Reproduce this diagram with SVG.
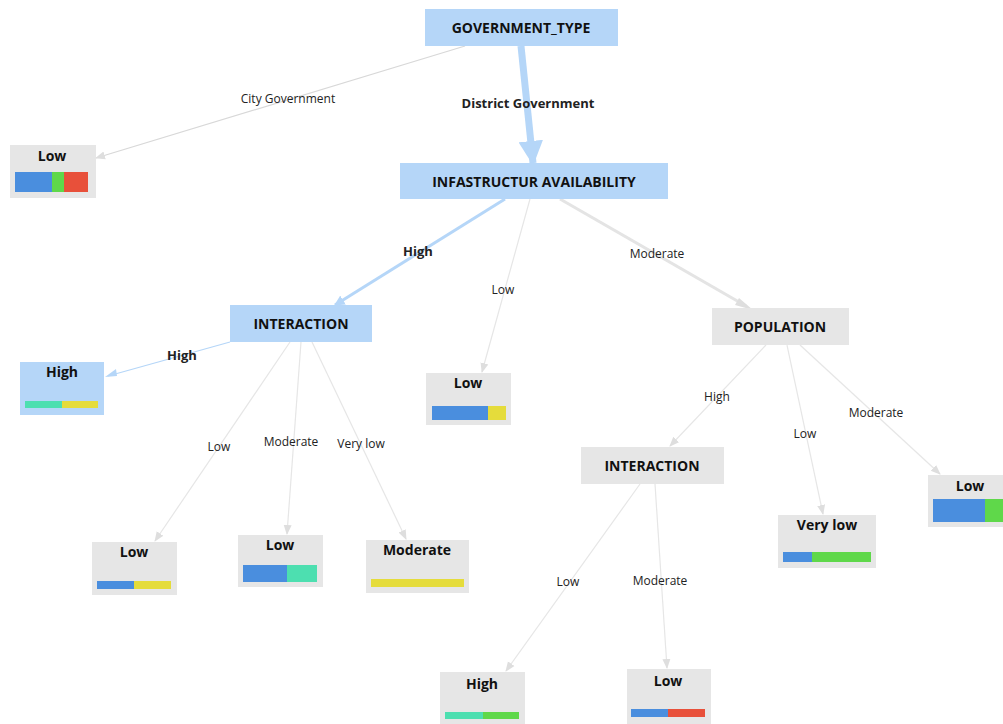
<svg xmlns="http://www.w3.org/2000/svg" width="1003" height="724" viewBox="0 0 1003 724">
<style>
.nb{fill:#b5d6f8}
.ng{fill:#e6e6e6}
.t{font-family:"Open Sans","Liberation Sans",sans-serif;font-weight:bold;font-size:14px;fill:#111;text-anchor:middle}
.el{font-family:"Open Sans","Liberation Sans",sans-serif;font-size:12px;fill:#222;text-anchor:middle}
.eb{font-family:"Open Sans","Liberation Sans",sans-serif;font-size:13px;font-weight:bold;fill:#222;text-anchor:middle}
.e{stroke:#e6e6e6;stroke-width:1.2;fill:none;marker-end:url(#ag)}
.ed{stroke:#d8d8d8;stroke-width:1.2;fill:none;marker-end:url(#ag)}
.ew{stroke:#e4e4e4;stroke-width:3;fill:none}
.eh{stroke:#b5d6f8;fill:none;marker-end:url(#ab)}
.bB{fill:#4a8ede}.bG{fill:#5fd84a}.bR{fill:#e8503a}.bT{fill:#4ddfb0}.bY{fill:#e5dc3b}
</style>
<defs>
<marker id="ag" viewBox="0 0 10 10" refX="9" refY="5" markerWidth="10" markerHeight="10" markerUnits="userSpaceOnUse" orient="auto">
<path d="M0,1 L10,5 L0,9 Z" fill="#dedede"/>
</marker>
<marker id="ab" viewBox="0 0 10 10" refX="9" refY="5" markerWidth="3.5" markerHeight="3.5" orient="auto">
<path d="M0,0 L10,5 L0,10 Z" fill="#b5d6f8"/>
</marker>
</defs>
<g id="connectors">
<line class="ed" x1="465" y1="46" x2="96" y2="158"/>
<line class="eh" stroke-width="7" x1="521" y1="46" x2="533" y2="163"/>
<line class="eh" stroke-width="3" x1="505" y1="199" x2="335" y2="305"/>
<line class="e" x1="530" y1="199" x2="482" y2="372"/>
<line class="ew" x1="560" y1="199" x2="746" y2="306"/>
<path d="M739,298 L753,310 L735,305 Z" fill="#dedede"/>
<line class="eh" stroke-width="1.2" x1="230" y1="342" x2="108" y2="376" style="marker-end:none"/>
<path d="M105,377 L116,369 L117,376 Z" fill="#b5d6f8"/>
<line class="e" x1="290" y1="342" x2="155" y2="541"/>
<line class="e" x1="301" y1="342" x2="287" y2="534"/>
<line class="e" x1="312" y1="342" x2="406" y2="539"/>
<line class="e" x1="766" y1="345" x2="670" y2="446"/>
<line class="e" x1="787" y1="345" x2="823" y2="514"/>
<line class="e" x1="800" y1="345" x2="940" y2="474"/>
<line class="e" x1="640" y1="484" x2="506" y2="671"/>
<line class="e" x1="655" y1="484" x2="667" y2="668"/>
<text class="el" x="288" y="103">City Government</text>
<text class="eb" x="528" y="108">District Government</text>
<text class="eb" x="418" y="256">High</text>
<text class="el" x="503" y="294">Low</text>
<text class="el" x="657" y="258">Moderate</text>
<text class="eb" x="182" y="360">High</text>
<text class="el" x="219" y="451">Low</text>
<text class="el" x="291" y="446">Moderate</text>
<text class="el" x="361" y="448">Very low</text>
<text class="el" x="717" y="401">High</text>
<text class="el" x="805" y="438">Low</text>
<text class="el" x="876" y="417">Moderate</text>
<text class="el" x="568" y="586">Low</text>
<text class="el" x="660" y="585">Moderate</text>
</g>
<g id="n-government-type">
<rect class="nb" x="425" y="9" width="193" height="37"/>
<text class="t" x="521" y="33">GOVERNMENT_TYPE</text>
</g>
<g id="n-low-city">
<rect class="ng" x="10" y="145" width="86" height="53"/>
<text class="t" x="52" y="161">Low</text>
<rect class="bB" x="15" y="172" width="37" height="20"/>
<rect class="bG" x="52" y="172" width="12" height="20"/>
<rect class="bR" x="64" y="172" width="24" height="20"/>
</g>
<g id="n-infra">
<rect class="nb" x="400" y="163" width="268" height="36"/>
<text class="t" x="534" y="187">INFASTRUCTUR AVAILABILITY</text>
</g>
<g id="n-interaction1">
<rect class="nb" x="230" y="305" width="142" height="37"/>
<text class="t" x="301" y="329">INTERACTION</text>
</g>
<g id="n-high1">
<rect class="nb" x="20" y="362" width="84" height="53"/>
<text class="t" x="62" y="377">High</text>
<rect class="bT" x="25" y="401" width="37" height="7"/>
<rect class="bY" x="62" y="401" width="36" height="7"/>
</g>
<g id="n-low-mid">
<rect class="ng" x="426" y="373" width="85" height="52"/>
<text class="t" x="468" y="388">Low</text>
<rect class="bB" x="432" y="406" width="56" height="14"/>
<rect class="bY" x="488" y="406" width="18" height="14"/>
</g>
<g id="n-population">
<rect class="ng" x="712" y="308" width="137" height="37"/>
<text class="t" x="780" y="332">POPULATION</text>
</g>
<g id="n-low-a">
<rect class="ng" x="92" y="542" width="85" height="53"/>
<text class="t" x="134" y="557">Low</text>
<rect class="bB" x="97" y="581" width="37" height="8"/>
<rect class="bY" x="134" y="581" width="37" height="8"/>
</g>
<g id="n-low-b">
<rect class="ng" x="238" y="535" width="85" height="52"/>
<text class="t" x="280" y="550">Low</text>
<rect class="bB" x="243" y="565" width="44" height="17"/>
<rect class="bT" x="287" y="565" width="30" height="17"/>
</g>
<g id="n-moderate">
<rect class="ng" x="366" y="540" width="103" height="53"/>
<text class="t" x="417" y="555">Moderate</text>
<rect class="bY" x="371" y="579" width="93" height="8"/>
</g>
<g id="n-interaction2">
<rect class="ng" x="581" y="447" width="143" height="37"/>
<text class="t" x="652" y="471">INTERACTION</text>
</g>
<g id="n-verylow">
<rect class="ng" x="778" y="515" width="98" height="53"/>
<text class="t" x="827" y="530">Very low</text>
<rect class="bB" x="783" y="552" width="29" height="10"/>
<rect class="bG" x="812" y="552" width="59" height="10"/>
</g>
<g id="n-low-right">
<rect class="ng" x="928" y="475" width="80" height="52"/>
<text class="t" x="970" y="491">Low</text>
<rect class="bB" x="933" y="499" width="52" height="23"/>
<rect class="bG" x="985" y="499" width="20" height="23"/>
</g>
<g id="n-high2">
<rect class="ng" x="440" y="672" width="85" height="55"/>
<text class="t" x="482" y="689">High</text>
<rect class="bT" x="445" y="712" width="38" height="7"/>
<rect class="bG" x="483" y="712" width="36" height="7"/>
</g>
<g id="n-low-bottom">
<rect class="ng" x="627" y="669" width="84" height="55"/>
<text class="t" x="668" y="686">Low</text>
<rect class="bB" x="631" y="709" width="37" height="8"/>
<rect class="bR" x="668" y="709" width="37" height="8"/>
</g>
</svg>
